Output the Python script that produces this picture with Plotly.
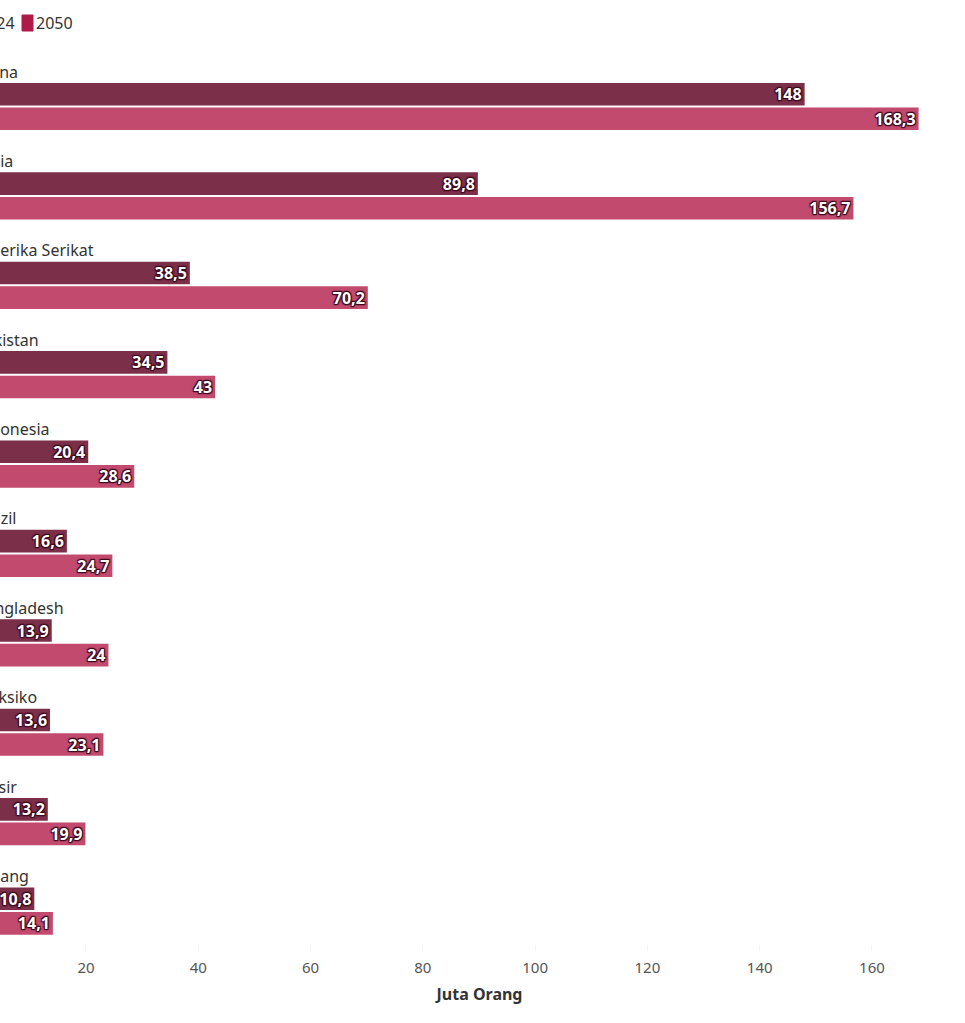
import plotly.graph_objects as go

countries = ["China", "India", "Amerika Serikat", "Pakistan", "Indonesia",
             "Brazil", "Bangladesh", "Meksiko", "Mesir", "Jepang"]
val_2024 = [148, 89.8, 38.5, 34.5, 20.4, 16.6, 13.9, 13.6, 13.2, 10.8]
val_2050 = [168.3, 156.7, 70.2, 43, 28.6, 24.7, 24, 23.1, 19.9, 14.1]
series_names = ["2024", "2050"]
x_ticks = [0, 20, 40, 60, 80, 100, 120, 140, 160]

C2024 = "#7b2f48"
C2050 = "#c24a6e"
FONT = "Noto Sans"


def fmt(v):
    s = f"{v:g}"
    return s.replace(".", ",")


shadow = ("1px 1px 1px #3d0a1f, -1px -1px 1px #3d0a1f, "
          "1px -1px 1px #3d0a1f, -1px 1px 1px #3d0a1f, "
          "0 1px 1px #3d0a1f, 0 -1px 1px #3d0a1f")

fig = go.Figure()
for name, vals, col in [(series_names[0], val_2024, C2024),
                        (series_names[1], val_2050, C2050)]:
    fig.add_trace(go.Bar(
        name=name, y=countries, x=vals, orientation="h",
        marker=dict(color=col, line=dict(width=0)),
        text=[fmt(v) for v in vals],
        textposition="inside", insidetextanchor="end", textangle=0,
        constraintext="none",
        textfont=dict(family=FONT, size=16, color="white", weight="bold",
                      shadow=shadow),
        cliponaxis=True,
        showlegend=False,
    ))

# category labels above each group
for c in countries:
    fig.add_annotation(x=0, y=c, xref="paper", yref="y", text=c,
                       showarrow=False, xanchor="left", yanchor="middle",
                       xshift=-27, yshift=35,
                       font=dict(family=FONT, size=16, color="#333333"))

# legend (custom)
leg = [(series_names[0], C2024, -36), (series_names[1], "#b01a4b", 22)]
for name, col, px in leg:
    fig.add_shape(type="rect", xref="paper", yref="paper",
                  xsizemode="pixel", ysizemode="pixel",
                  xanchor=0, yanchor=1, x0=px, x1=px + 11, y0=9, y1=25,
                  fillcolor=col, line=dict(color=col, width=1))
    fig.add_annotation(xref="paper", yref="paper", x=0, y=1,
                       xshift=px + 12, yshift=17, text=name,
                       showarrow=False, xanchor="left", yanchor="middle",
                       font=dict(family=FONT, size=16, color="#333333"))

fig.update_layout(
    width=965, height=1023,
    margin=dict(l=0, r=6, t=40, b=78),
    barmode="group", bargap=0.45, bargroupgap=0.08,
    plot_bgcolor="white", paper_bgcolor="white",
    separators=",.",
    font=dict(family=FONT, color="#333333"),
    xaxis=dict(range=[4.685, 175.5], tickvals=x_ticks,
               showgrid=False, zeroline=False, showline=False,
               ticks="outside", ticklen=5, tickcolor="#f2f2f2",
               tickfont=dict(family=FONT, size=15, color="#555555"),
               ticklabelstandoff=4,
               title=dict(text="Juta Orang", standoff=12,
                          font=dict(family=FONT, size=16, color="#333333",
                                    weight="bold"))),
    yaxis=dict(categoryorder="array", categoryarray=countries,
               range=[9.38, -0.744], showticklabels=False,
               showgrid=False, zeroline=False, showline=False),
)

fig.write_html("out.html")
